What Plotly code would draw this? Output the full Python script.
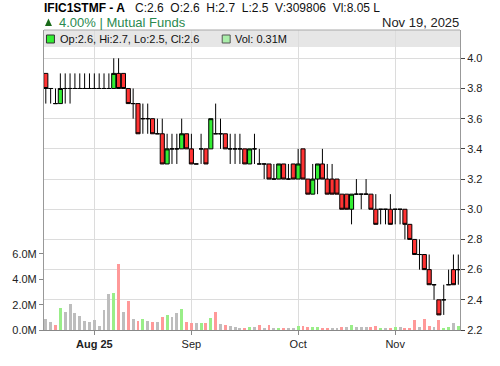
import plotly.graph_objects as go
import pandas as pd

# ---------------- data ----------------
# Bangladesh trading calendar (Sun-Thu), Jul 20 - Nov 19, 2025
trade_days = pd.bdate_range("2025-07-20", "2025-11-19", freq="C",
                            weekmask="Sun Mon Tue Wed Thu",
                            holidays=["2025-08-05", "2025-10-01", "2025-10-02"])
dates = [d.strftime("%Y-%m-%d") for d in trade_days]

opens = [3.9, 3.8, 3.7, 3.7, 3.8, 3.8, 3.8, 3.8, 3.8, 3.8, 3.8, 3.8, 3.8, 3.8, 3.8, 3.9, 3.9, 3.8, 3.7, 3.7,
         3.6, 3.6, 3.6, 3.5, 3.5, 3.3, 3.4, 3.4, 3.4, 3.5, 3.4, 3.3, 3.4, 3.4, 3.4, 3.5, 3.5, 3.5, 3.4, 3.4,
         3.4, 3.4, 3.3, 3.4, 3.3, 3.3, 3.3, 3.2, 3.2, 3.3, 3.2, 3.3, 3.2, 3.4, 3.2, 3.1, 3.2, 3.3, 3.2, 3.2,
         3.2, 3.1, 3.1, 3.0, 3.1, 3.1, 3.1, 3.1, 3.0, 3.0, 3.0, 3.0, 3.0, 3.0, 3.0, 2.9, 2.8, 2.7, 2.7, 2.6,
         2.5, 2.4, 2.4, 2.5, 2.6, 2.6]
highs = [3.9, 3.8, 3.8, 3.9, 3.9, 3.9, 3.9, 3.9, 3.9, 3.9, 3.9, 3.9, 3.9, 3.9, 4.0, 4.0, 3.9, 3.8, 3.8, 3.7,
         3.7, 3.7, 3.6, 3.6, 3.6, 3.5, 3.5, 3.5, 3.6, 3.5, 3.5, 3.3, 3.5, 3.4, 3.6, 3.7, 3.6, 3.5, 3.5, 3.5,
         3.5, 3.4, 3.4, 3.5, 3.4, 3.3, 3.3, 3.3, 3.3, 3.3, 3.3, 3.3, 3.4, 3.4, 3.2, 3.3, 3.3, 3.4, 3.3, 3.3,
         3.2, 3.1, 3.1, 3.1, 3.2, 3.1, 3.2, 3.1, 3.1, 3.0, 3.0, 3.1, 3.0, 3.0, 3.0, 2.9, 2.8, 2.8, 2.7, 2.7,
         2.5, 2.4, 2.5, 2.6, 2.7, 2.7]
lows = [3.7, 3.7, 3.7, 3.7, 3.7, 3.7, 3.8, 3.8, 3.8, 3.8, 3.8, 3.8, 3.8, 3.8, 3.8, 3.8, 3.8, 3.7, 3.6, 3.5,
        3.5, 3.5, 3.5, 3.5, 3.3, 3.3, 3.3, 3.3, 3.4, 3.4, 3.3, 3.3, 3.3, 3.3, 3.4, 3.5, 3.4, 3.4, 3.3, 3.3,
        3.3, 3.3, 3.3, 3.3, 3.3, 3.2, 3.2, 3.2, 3.2, 3.2, 3.2, 3.2, 3.2, 3.2, 3.1, 3.1, 3.1, 3.2, 3.1, 3.1,
        3.1, 3.0, 3.0, 2.9, 3.1, 3.0, 3.1, 3.0, 2.9, 2.9, 2.9, 2.9, 2.9, 2.9, 2.8, 2.8, 2.7, 2.6, 2.6, 2.5,
        2.4, 2.3, 2.3, 2.5, 2.5, 2.5]
closes = [3.8, 3.8, 3.7, 3.8, 3.8, 3.8, 3.8, 3.8, 3.8, 3.8, 3.8, 3.8, 3.8, 3.8, 3.9, 3.8, 3.8, 3.7, 3.7, 3.5,
          3.6, 3.6, 3.5, 3.5, 3.3, 3.4, 3.4, 3.4, 3.5, 3.4, 3.3, 3.3, 3.4, 3.3, 3.6, 3.5, 3.5, 3.4, 3.4, 3.4,
          3.4, 3.3, 3.4, 3.4, 3.3, 3.3, 3.2, 3.2, 3.3, 3.2, 3.2, 3.2, 3.3, 3.2, 3.1, 3.2, 3.3, 3.2, 3.1, 3.1,
          3.1, 3.0, 3.0, 3.1, 3.1, 3.1, 3.1, 3.0, 2.9, 3.0, 3.0, 2.9, 3.0, 3.0, 2.9, 2.8, 2.7, 2.7, 2.6, 2.5,
          2.5, 2.3, 2.4, 2.5, 2.5, 2.6]
volumes_m = [0.87, 0.63, 0.40, 1.74, 1.45, 2.05, 1.37, 1.10, 0.71, 0.63, 0.79, 0.32, 1.58, 2.84, 2.92, 5.21,
             1.42, 2.25, 0.87, 0.71, 0.87, 0.71, 0.66, 0.66, 1.03, 1.18, 1.03, 1.34, 1.66, 0.63, 0.55, 0.55,
             0.55, 0.55, 0.95, 1.42, 0.47, 0.40, 0.32, 0.24, 0.16, 0.16, 0.24, 0.20, 0.37, 0.16, 0.37, 0.16,
             0.16, 0.16, 0.16, 0.16, 0.30, 0.30, 0.20, 0.20, 0.25, 0.10, 0.12, 0.15, 0.12, 0.25, 0.25, 0.37,
             0.27, 0.27, 0.20, 0.27, 0.35, 0.10, 0.10, 0.16, 0.26, 0.22, 0.18, 0.15, 0.80, 0.26, 0.88, 0.30,
             0.26, 0.80, 0.18, 0.26, 0.56, 0.31]
volumes = [v * 1e6 for v in volumes_m]

tick_dates = ["2025-08-03", "2025-09-01", "2025-10-05", "2025-11-02"]
tick_labels = ["<b>Aug 25</b>", "Sep", "Oct", "Nov"]
price_ticks = [2.2, 2.4, 2.6, 2.8, 3.0, 3.2, 3.4, 3.6, 3.8, 4.0]
vol_ticks = [0, 2e6, 4e6, 6e6]
vol_tick_labels = ["0.0M", "2.0M", "4.0M", "6.0M"]

# volume colour by change of close
vol_colors = []
for i, c in enumerate(closes):
    if i == 0 or c == closes[i - 1]:
        vol_colors.append("#bdbdbd")
    elif c > closes[i - 1]:
        vol_colors.append("#99ee88")
    else:
        vol_colors.append("#ff9999")

# ---------------- layout geometry ----------------
W, H = 500, 366
L, R, T, B = 41, 40, 30, 36
PW, PH = W - L - R, H - T - B


def px(xp):
    return (xp - L) / PW


def py(yp):
    return (H - B - yp) / PH


FONT = "Arial, Liberation Sans, Helvetica, sans-serif"

fig = go.Figure()
fig.add_trace(go.Bar(x=dates, y=volumes, marker=dict(color=vol_colors, line=dict(width=0)),
                     width=0.6, yaxis="y", hoverinfo="skip", showlegend=False))
fig.add_trace(go.Candlestick(
    x=dates, open=opens, high=highs, low=lows, close=closes, yaxis="y2",
    increasing=dict(fillcolor="#33ee33", line=dict(color="#000000", width=1)),
    decreasing=dict(fillcolor="#ff3333", line=dict(color="#000000", width=1)),
    whiskerwidth=0, showlegend=False, hoverinfo="skip"))

annotations = [
    dict(x=px(40), y=py(8.5), text="<b>IFIC1STMF - A</b>", xanchor="left", yanchor="middle",
         font=dict(size=12, color="#000000", family=FONT)),
    dict(x=px(131.5), y=py(8.5),
         text="C:2.6\u00a0\u00a0O:2.6\u00a0\u00a0H:2.7\u00a0\u00a0L:2.5\u00a0\u00a0V:309806\u00a0\u00a0Vl:8.05 L",
         xanchor="left", yanchor="middle", font=dict(size=12, color="#111111", family=FONT)),
    dict(x=px(55.5), y=py(22), text="4.00% | Mutual Funds", xanchor="left", yanchor="middle",
         font=dict(size=13, color="#2a8a50", family=FONT)),
    dict(x=px(460.5), y=py(22), text="Nov 19, 2025", xanchor="right", yanchor="middle",
         font=dict(size=13, color="#222222", family=FONT)),
    dict(x=px(56.5), y=py(39), text="Op:2.6, Hi:2.7, Lo:2.5, Cl:2.6", xanchor="left", yanchor="middle",
         font=dict(size=11, color="#111111", family=FONT)),
    dict(x=px(232.5), y=py(39), text="Vol: 0.31M", xanchor="left", yanchor="middle",
         font=dict(size=11, color="#111111", family=FONT)),
]
for a in annotations:
    a.update(xref="paper", yref="paper", showarrow=False, borderpad=0)

shapes = [
    # legend strip
    dict(type="rect", xref="paper", yref="paper", x0=0, x1=1, y0=py(47), y1=1,
         fillcolor="#e6e6e6", line=dict(width=0), layer="below"),
    dict(type="line", xref="paper", yref="paper", x0=0, x1=1, y0=1, y1=1,
         line=dict(color="#a8a8a8", width=1)),
    # legend icons
    dict(type="rect", xref="paper", yref="paper", x0=px(43.5), x1=px(51.5), y0=py(43), y1=py(35),
         fillcolor="#33ee33", line=dict(color="#333333", width=1)),
    dict(type="rect", xref="paper", yref="paper", x0=px(220.5), x1=px(228.5), y0=py(43), y1=py(35),
         fillcolor="#aaeeaa", line=dict(color="#555555", width=1)),
    # up triangle
    dict(type="path", xref="paper", yref="paper",
         path=f"M {px(42)} {py(26)} L {px(49)} {py(26)} L {px(45.5)} {py(18.5)} Z",
         fillcolor="#186a18", line=dict(width=0)),
]

fig.update_layout(
    width=W, height=H, margin=dict(l=L, r=R, t=T, b=B, pad=0),
    paper_bgcolor="white", plot_bgcolor="white",
    font=dict(family=FONT, size=11, color="#222222"),
    showlegend=False, boxgap=0.15, boxgroupgap=0, bargap=0,
    annotations=annotations, shapes=shapes,
    xaxis=dict(type="category", range=[-0.37, len(dates) - 1 + 0.35],
               rangeslider=dict(visible=False),
               tickmode="array", tickvals=tick_dates, ticktext=tick_labels,
               showgrid=True, gridcolor="#dcdcdc", gridwidth=1,
               ticks="outside", ticklen=4, tickcolor="#888888",
               showline=True, linecolor="#888888", linewidth=1,
               tickfont=dict(size=11, color="#222222", family=FONT), fixedrange=True),
    yaxis=dict(side="left", range=[0, 23.68e6], tickmode="array",
               tickvals=vol_ticks, ticktext=vol_tick_labels, showgrid=False, zeroline=False,
               ticks="outside", ticklen=4, tickcolor="#888888",
               showline=True, linecolor="#999999", linewidth=1,
               tickfont=dict(size=11, color="#222222", family=FONT)),
    yaxis2=dict(side="right", overlaying="y", range=[2.2, 4.1875], tickmode="array",
                tickvals=price_ticks, ticktext=[f"{v:.1f}" for v in price_ticks],
                showgrid=True, gridcolor="#dcdcdc", gridwidth=1, zeroline=False,
                ticks="outside", ticklen=4, tickcolor="#444444",
                showline=True, linecolor="#999999", linewidth=1,
                tickfont=dict(size=11, color="#222222", family=FONT)),
)

fig.write_html("out.html", config={"displayModeBar": False})
